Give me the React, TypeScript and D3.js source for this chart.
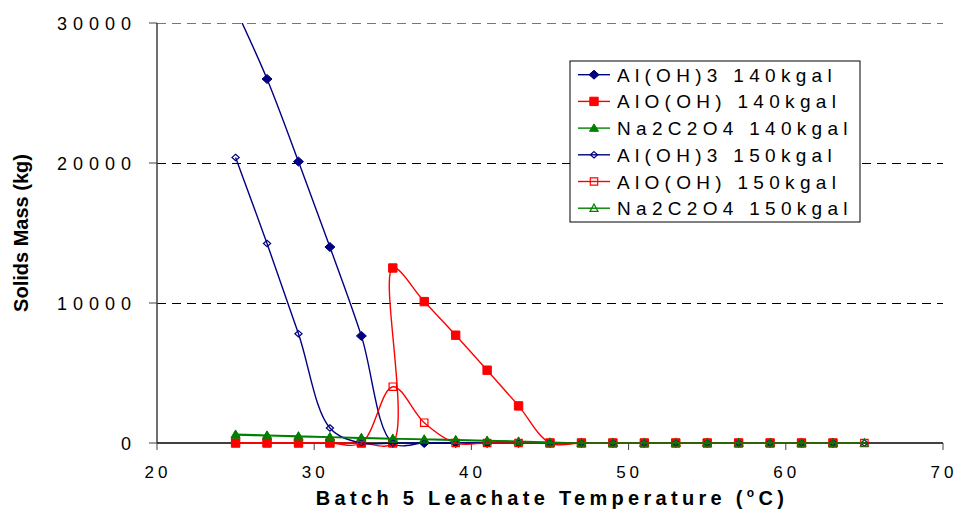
import React from "react";
import * as d3 from "d3";

// Leachate temperature (°C) at each modelled point
const temps140 = [25, 27, 29, 31, 33, 35, 37, 39, 41, 43, 45, 47, 49, 51, 53, 55, 57, 59, 61, 63];
const temps140Boehmite = [25, 27, 29, 31, 33, 35, 35, 37, 39, 41, 43, 45, 47, 49, 51, 53, 55, 57, 59, 61, 63];
const temps150 = [25, 27, 29, 31, 33, 35, 37, 39, 41, 43, 45, 47, 49, 51, 53, 55, 57, 59, 61, 63, 65];

// Solids mass (kg)
const gibbsite140 = [31000, 26000, 20100, 14000, 7650, 0, 0, 0, 0, 0, 0, 0, 0, 0, 0, 0, 0, 0, 0, 0];
const boehmite140 = [0, 0, 0, 0, 0, 0, 12500, 10100, 7700, 5200, 2650, 0, 0, 0, 0, 0, 0, 0, 0, 0, 0];
const oxalate140 = [620, 560, 500, 440, 380, 330, 280, 230, 180, 130, 50, 0, 0, 0, 0, 0, 0, 0, 0, 0];
const gibbsite150 = [20400, 14250, 7800, 1070, 0, 0, 0, 0, 0, 0, 0, 0, 0, 0, 0, 0, 0, 0, 0, 0, 0];
const boehmite150 = [0, 0, 0, 0, 0, 4020, 1450, 0, 0, 0, 0, 0, 0, 0, 0, 0, 0, 0, 0, 0, 0];
const oxalate150 = [570, 510, 450, 400, 340, 290, 240, 190, 140, 90, 30, 0, 0, 0, 0, 0, 0, 0, 0, 0, 0];

const xTicks = [20, 30, 40, 50, 60, 70];
const yTicks = [0, 10000, 20000, 30000];

type Marker = "diamond" | "square" | "triangle";

interface Series {
  name: string;
  temps: number[];
  values: number[];
  color: string;
  marker: Marker;
  filled: boolean;
}

const series: Series[] = [
  { name: "Al(OH)3 140kgal", temps: temps140, values: gibbsite140, color: "#000080", marker: "diamond", filled: true },
  { name: "AlO(OH) 140kgal", temps: temps140Boehmite, values: boehmite140, color: "#FF0000", marker: "square", filled: true },
  { name: "Na2C2O4 140kgal", temps: temps140, values: oxalate140, color: "#008000", marker: "triangle", filled: true },
  { name: "Al(OH)3 150kgal", temps: temps150, values: gibbsite150, color: "#000080", marker: "diamond", filled: false },
  { name: "AlO(OH) 150kgal", temps: temps150, values: boehmite150, color: "#FF0000", marker: "square", filled: false },
  { name: "Na2C2O4 150kgal", temps: temps150, values: oxalate150, color: "#008000", marker: "triangle", filled: false },
];

const W = 957;
const H = 510;
const FONT = "'Liberation Sans', Arial, Helvetica, sans-serif";

const x = d3.scaleLinear().domain([20, 70]).range([157, 943]);
const y = d3.scaleLinear().domain([0, 30000]).range([443, 23]);

function markerPath(kind: Marker, filled: boolean): string {
  if (kind === "diamond") {
    const w = filled ? 5 : 3.6;
    const h = filled ? 4.5 : 3.2;
    return `M0,${-h}L${w},0L0,${h}L${-w},0Z`;
  }
  if (kind === "square") {
    const s = filled ? 4.2 : 3.7;
    return `M${-s},${-s}H${s}V${s}H${-s}Z`;
  }
  const w = filled ? 4.5 : 4;
  return `M0,-4.2L${w},3.2L${-w},3.2Z`;
}

function MarkerShape({ s, cx, cy }: { s: Series; cx: number; cy: number }) {
  return (
    <path
      d={markerPath(s.marker, s.filled)}
      transform={`translate(${cx},${cy})`}
      fill={s.filled ? s.color : "none"}
      stroke={s.color}
      strokeWidth={s.filled ? 1 : 1.2}
    />
  );
}

export default function App() {
  const line = d3
    .line<[number, number]>()
    .x((d) => x(d[0]))
    .y((d) => y(d[1]))
    .curve(d3.curveCatmullRom.alpha(0.5));

  const legendX = 570;
  const legendY = 61;
  const legendRow = 26.7;

  return (
    <svg
      width={W}
      height={H}
      viewBox={`0 0 ${W} ${H}`}
      style={{ position: "absolute", left: 0, top: 0, background: "#fff" }}
      fontFamily={FONT}
    >
      <defs>
        <clipPath id="plotClip">
          <rect x={x(20)} y={y(30000)} width={x(70) - x(20)} height={470 - y(30000)} />
        </clipPath>
      </defs>

      {/* dashed gridlines */}
      {yTicks
        .filter((t) => t > 0)
        .map((t) => (
          <line
            key={`g${t}`}
            x1={x(20)}
            x2={x(70)}
            y1={y(t) + 0.5}
            y2={y(t) + 0.5}
            stroke={t === 30000 ? "#777" : "#000"}
            strokeWidth={1}
            strokeDasharray="9,6"
            shapeRendering="crispEdges"
          />
        ))}

      {/* axes */}
      <line x1={x(20)} x2={x(20)} y1={y(30000)} y2={y(0)} stroke="#404040" strokeWidth={1.5} />
      <line x1={x(20)} x2={x(70)} y1={y(0)} y2={y(0)} stroke="#000" strokeWidth={1.5} />
      {yTicks.map((t) => (
        <g key={`yt${t}`}>
          <line x1={x(20) - 8} x2={x(20)} y1={y(t)} y2={y(t)} stroke="#404040" strokeWidth={1} />
          <text x={131 + 6} y={y(t) + 6.5} textAnchor="end" fontSize={18} letterSpacing={6} fill="#000">
            {t}
          </text>
        </g>
      ))}
      {xTicks.map((t) => (
        <g key={`xt${t}`}>
          <line x1={x(t)} x2={x(t)} y1={y(0)} y2={y(0) + 7} stroke="#404040" strokeWidth={1} />
          <text x={x(t) + 1} y={478} textAnchor="middle" fontSize={17} letterSpacing={4} fill="#000">
            {t}
          </text>
        </g>
      ))}

      {/* axis titles */}
      <text
        transform={`translate(28,${(y(0) + y(30000)) / 2}) rotate(-90)`}
        textAnchor="middle"
        fontSize={20}
        fontWeight="bold"
        fill="#000"
      >
        Solids Mass (kg)
      </text>
      <text
        x={(x(20) + x(70)) / 2 + 2}
        y={505}
        textAnchor="middle"
        fontSize={20}
        fontWeight="bold"
        letterSpacing={4.3}
        fill="#000"
      >
        Batch 5 Leachate Temperature (
        <tspan fontSize={12} dy={-8}>o</tspan>
        <tspan dy={8}>C)</tspan>
      </text>

      {/* series */}
      <g clipPath="url(#plotClip)">
        {series.map((s) => {
          const pts = s.temps.map((t, i) => [t, s.values[i]] as [number, number]);
          return (
            <g key={s.name}>
              <path d={line(pts) ?? ""} fill="none" stroke={s.color} strokeWidth={1.4} />
              {pts.map((p, i) => (
                <MarkerShape key={i} s={s} cx={x(p[0])} cy={y(p[1])} />
              ))}
            </g>
          );
        })}
      </g>

      {/* legend */}
      <rect
        x={legendX}
        y={legendY}
        width={290}
        height={161}
        fill="#fff"
        stroke="#000"
        strokeWidth={1}
      />
      {series.map((s, i) => {
        const cy = 74.7 + i * legendRow;
        return (
          <g key={`lg${s.name}`}>
            <line x1={578} x2={610} y1={cy} y2={cy} stroke={s.color} strokeWidth={1.4} />
            <MarkerShape s={s} cx={594} cy={cy} />
            <text x={617} y={cy + 7} fontSize={19} letterSpacing={5.3} fill="#000">
              {s.name}
            </text>
          </g>
        );
      })}
    </svg>
  );
}
